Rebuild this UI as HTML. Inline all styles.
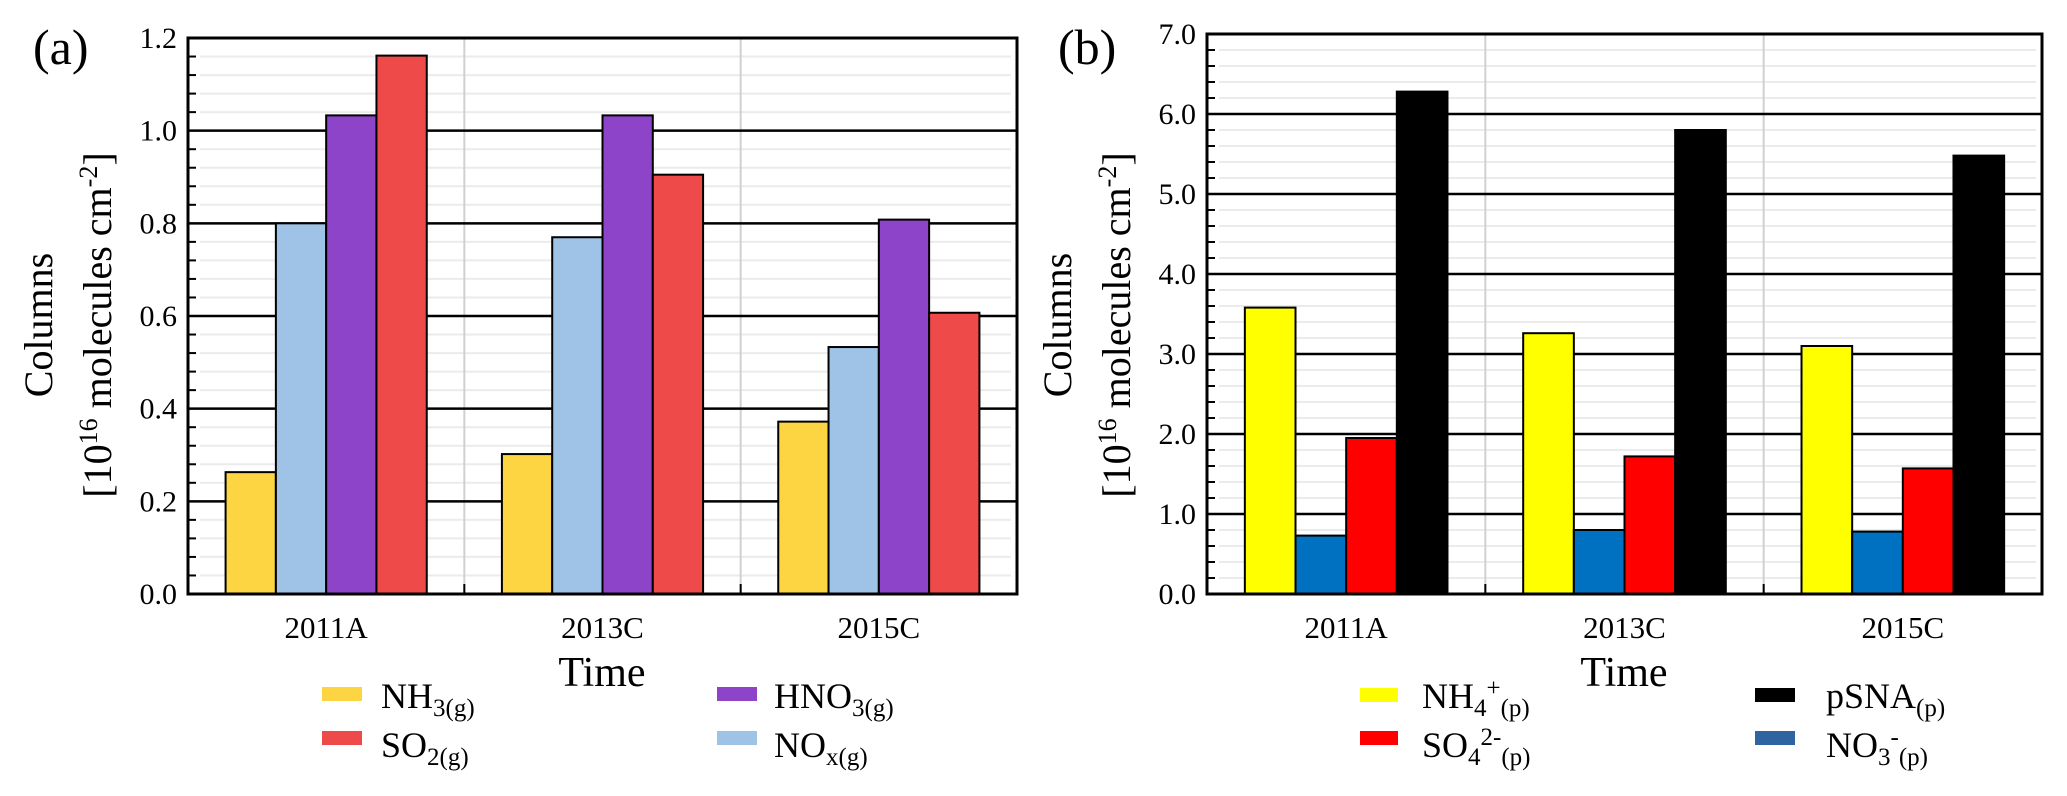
<!DOCTYPE html>
<html><head><meta charset="utf-8">
<style>
html,body{margin:0;padding:0;background:#fff;}
svg{display:block;font-family:"Liberation Serif","Times New Roman",serif;}
</style></head>
<body>
<svg id="fig" width="2067" height="796" viewBox="0 0 2067 796" xmlns="http://www.w3.org/2000/svg">
  <text x="33" y="64" font-size="50">(a)</text>
  <text x="1058" y="64" font-size="50">(b)</text>

  <g font-size="40">
    <text transform="translate(52,325) rotate(-90)" text-anchor="middle">Columns</text>
    <text transform="translate(111,325) rotate(-90)" text-anchor="middle">[10<tspan font-size="26" dy="-14">16</tspan><tspan dy="14"> molecules cm</tspan><tspan font-size="26" dy="-14">-2</tspan><tspan dy="14">]</tspan></text>
  </g>
  <g font-size="40">
    <text transform="translate(1071,325) rotate(-90)" text-anchor="middle">Columns</text>
    <text transform="translate(1130,325) rotate(-90)" text-anchor="middle">[10<tspan font-size="26" dy="-14">16</tspan><tspan dy="14"> molecules cm</tspan><tspan font-size="26" dy="-14">-2</tspan><tspan dy="14">]</tspan></text>
  </g>

  <text x="602" y="686" font-size="42" text-anchor="middle">Time</text>
  <text x="1624" y="686" font-size="42" text-anchor="middle">Time</text>

  <g id="plotA"></g>
  <g id="plotB"></g>

  <g font-size="36">
    <g>
      <rect x="322" y="687" width="40" height="14" fill="#FDD442"/>
      <text x="381" y="708">NH<tspan font-size="25" dy="8">3(g)</tspan></text>
    </g>
    <g>
      <rect x="322" y="731" width="40" height="14" fill="#EE4A4A"/>
      <text x="381" y="757">SO<tspan font-size="25" dy="8">2(g)</tspan></text>
    </g>
    <g>
      <rect x="717" y="687" width="40" height="14" fill="#8E44C8"/>
      <text x="774" y="708">HNO<tspan font-size="25" dy="8">3(g)</tspan></text>
    </g>
    <g>
      <rect x="717" y="731" width="40" height="14" fill="#9FC3E7"/>
      <text x="774" y="757">NO<tspan font-size="25" dy="8">x(g)</tspan></text>
    </g>
  </g>
  <g font-size="36">
    <g>
      <rect x="1360" y="688" width="38" height="14" fill="#FFFF00"/>
      <text x="1422" y="708">NH<tspan font-size="25" dy="8">4</tspan><tspan font-size="25" dy="-20">+</tspan><tspan font-size="25" dy="20">(p)</tspan></text>
    </g>
    <g>
      <rect x="1360" y="731" width="38" height="14" fill="#FF0000"/>
      <text x="1422" y="757">SO<tspan font-size="25" dy="8">4</tspan><tspan font-size="25" dy="-20">2-</tspan><tspan font-size="25" dy="20">(p)</tspan></text>
    </g>
    <g>
      <rect x="1755" y="688" width="40" height="14" fill="#000000"/>
      <text x="1826" y="708">pSNA<tspan font-size="25" dy="8">(p)</tspan></text>
    </g>
    <g>
      <rect x="1755" y="731" width="40" height="14" fill="#2E64A0"/>
      <text x="1826" y="757">NO<tspan font-size="25" dy="8">3</tspan><tspan font-size="25" dy="-20">-</tspan><tspan font-size="25" dy="20">(p)</tspan></text>
    </g>
  </g>
</svg>
<script>
// Panel (a) data
const catsA = ["2011A", "2013C", "2015C"];
const seriesNamesA = ["NH3", "NOx", "HNO3", "SO2"];
const nh3Vals = [0.263, 0.302, 0.372];
const noxVals = [0.800, 0.770, 0.533];
const hno3Vals = [1.033, 1.033, 0.808];
const so2Vals = [1.162, 0.905, 0.607];
const ticksA = ["0.0", "0.2", "0.4", "0.6", "0.8", "1.0", "1.2"];
const colorsA = ["#FDD442", "#9FC3E7", "#8E44C8", "#EE4A4A"];

// Panel (b) data
const catsB = ["2011A", "2013C", "2015C"];
const seriesNamesB = ["NH4", "NO3", "SO4", "pSNA"];
const nh4Vals = [3.58, 3.26, 3.10];
const no3Vals = [0.73, 0.80, 0.78];
const so4Vals = [1.95, 1.72, 1.57];
const psnaVals = [6.28, 5.80, 5.48];
const ticksB = ["0.0", "1.0", "2.0", "3.0", "4.0", "5.0", "6.0", "7.0"];
const colorsB = ["#FFFF00", "#0070C0", "#FF0000", "#000000"];

const NS = "http://www.w3.org/2000/svg";
function mk(parent, tag, attrs) {
  const e = document.createElementNS(NS, tag);
  for (const k in attrs) e.setAttribute(k, attrs[k]);
  parent.appendChild(e);
  return e;
}

function drawPanel(g, cfg) {
  const L = cfg.left, R = cfg.right, T = cfg.top, B = cfg.bottom;
  const ymax = cfg.ymax;
  const y = v => B - (v / ymax) * (B - T);
  const nC = cfg.cats.length;
  const cw = (R - L) / nC;
  const x = i => L + i * cw;

  // minor gridlines
  const nMinor = Math.round(ymax / cfg.minorStep);
  for (let k = 1; k < nMinor; k++) {
    const v = k * cfg.minorStep;
    if (Math.abs(v / cfg.majorStep - Math.round(v / cfg.majorStep)) < 1e-6) continue;
    const yy = y(v);
    const ln = mk(g, "line", {x1: L + 12, x2: R - 6, y1: yy, y2: yy, stroke: "#ebebeb", "stroke-width": 2});
    
    
    const tk = mk(g, "line", {x1: L, x2: L + 8, y1: yy, y2: yy, stroke: "#000", "stroke-width": 2});
    
    
  }
  // category dividers
  for (let i = 1; i < nC; i++) {
    const xx = x(i);
    const d = mk(g, "line", {x1: xx, x2: xx, y1: T, y2: B, stroke: "#d0d0d0", "stroke-width": 2});
    
    
    const dt = mk(g, "line", {x1: xx, x2: xx, y1: B - 10, y2: B, stroke: "#000", "stroke-width": 2});
    
    
  }
  // major gridlines + tick labels
  cfg.ticks.forEach((t, k) => {
    const v = parseFloat(t);
    const yy = y(v);
    if (k > 0 && k < cfg.ticks.length - 1) {
      const gl = mk(g, "line", {x1: L, x2: R, y1: yy, y2: yy, stroke: "#000", "stroke-width": 2.5});
      
      
    }
    const tl = mk(g, "text", {x: L - 11, y: yy + 10, "text-anchor": "end", "font-size": 30});
    tl.textContent = t;
    
    
  });
  // bars
  const nS = cfg.series.length;
  const bw = cw * 0.182;
  const gw = bw * nS;
  cfg.series.forEach((vals, s) => {
    vals.forEach((v, i) => {
      const bx = x(i) + (cw - gw) / 2 + s * bw;
      const r = mk(g, "rect", {x: bx, y: y(v), width: bw, height: B - y(v), fill: cfg.colors[s], stroke: "#000", "stroke-width": 2});
      
      
    });
  });
  // frame
  const fr = mk(g, "rect", {x: L, y: T, width: R - L, height: B - T, fill: "none", stroke: "#000", "stroke-width": 3});
  
  
  // category labels
  cfg.cats.forEach((c, i) => {
    const tl = mk(g, "text", {x: x(i) + cw / 2, y: 638, "text-anchor": "middle", "font-size": 31});
    tl.textContent = c;
    
    
  });
}

drawPanel(document.getElementById("plotA"), {
  left: 188, right: 1017, top: 38, bottom: 594, ymax: 1.2,
  majorStep: 0.2, minorStep: 0.04, ticks: ticksA, cats: catsA,
  series: [nh3Vals, noxVals, hno3Vals, so2Vals], colors: colorsA, names: seriesNamesA
});
drawPanel(document.getElementById("plotB"), {
  left: 1207, right: 2042, top: 34, bottom: 594, ymax: 7.0,
  majorStep: 1.0, minorStep: 0.2, ticks: ticksB, cats: catsB,
  series: [nh4Vals, no3Vals, so4Vals, psnaVals], colors: colorsB, names: seriesNamesB
});
</script>
</body></html>
